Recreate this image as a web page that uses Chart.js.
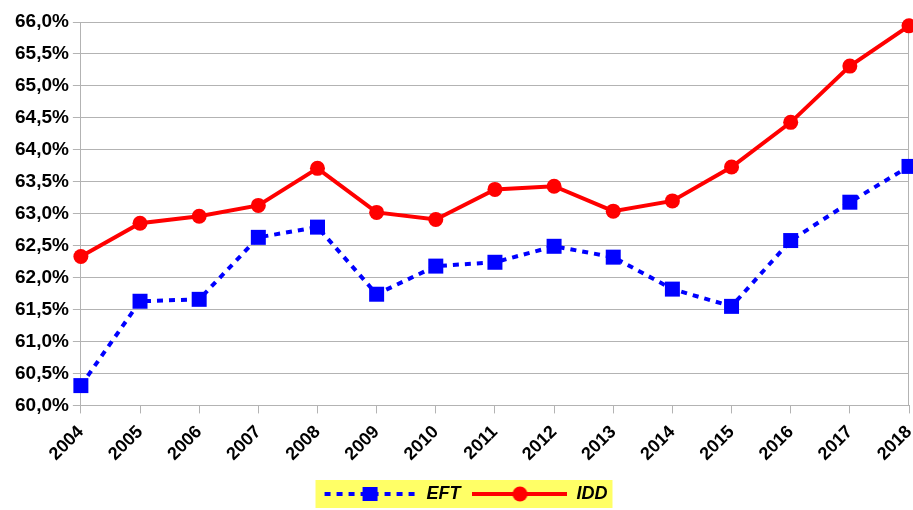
<!DOCTYPE html>
<html>
<head>
<meta charset="utf-8">
<script src="https://cdn.jsdelivr.net/npm/chart.js@4"></script>
<style>
  html, body { margin: 0; padding: 0; background: #fff; }
  #wrap { width: 913px; height: 510px; }
</style>
</head>
<body>
<div id="wrap"><canvas id="chart" width="913" height="510"></canvas></div>
<script>
const years = ['2004','2005','2006','2007','2008','2009','2010','2011','2012','2013','2014','2015','2016','2017','2018'];
const eftValues = [60.31, 61.63, 61.66, 62.63, 62.79, 61.74, 62.18, 62.24, 62.49, 62.32, 61.82, 61.55, 62.58, 63.18, 63.74];
const iddValues = [62.33, 62.85, 62.96, 63.13, 63.71, 63.02, 62.91, 63.38, 63.43, 63.04, 63.20, 63.73, 64.43, 65.31, 65.94];
const yMin = 60;
const yMax = 66;
const yStep = 0.5;

const gridColor = '#b3b3b3';
const fontFamily = '"Liberation Sans", Arial, sans-serif';

// small pictures of line + marker for the legend
function legendSwatch(color, dashed, marker) {
    const c = document.createElement('canvas');
    c.width = 95;
    c.height = 16;
    const g = c.getContext('2d');
    g.strokeStyle = color;
    g.fillStyle = color;
    g.lineWidth = 4;
    if (dashed) g.setLineDash([6, 6]);
    g.beginPath();
    g.moveTo(dashed ? 2 : 0, 8);
    g.lineTo(95, 8);
    g.stroke();
    g.setLineDash([]);
    if (marker === 'rect') {
        g.fillRect(40, 1, 15, 14);
    } else {
        g.beginPath();
        g.arc(47.5, 8, 7.5, 0, Math.PI * 2);
        g.fill();
    }
    return c;
}

const frameAndLegendBg = {
    id: 'frameAndLegendBg',
    afterUpdate(chart) {
        // nudge the legend a little to the right, like the original
        const lg = chart.legend;
        if (!lg) return;
        lg.left += 5;
        lg.right += 5;
        (lg.legendHitBoxes || []).forEach(b => { b.left += 5; });
    },
    beforeDraw(chart) {
        const ctx = chart.ctx;
        const boxes = chart.legend && chart.legend.legendHitBoxes;
        if (boxes && boxes.length) {
            const left = Math.min(...boxes.map(b => b.left)) - 7;
            const right = Math.max(...boxes.map(b => b.left + b.width)) + 5;
            const top = Math.min(...boxes.map(b => b.top)) - 5;
            const bottom = Math.max(...boxes.map(b => b.top + b.height)) + 5;
            ctx.save();
            ctx.fillStyle = '#ffff66';
            ctx.fillRect(left, top, right - left, bottom - top);
            ctx.restore();
        }
    },
    beforeDatasetsDraw(chart) {
        const a = chart.chartArea;
        const ctx = chart.ctx;
        ctx.save();
        ctx.strokeStyle = gridColor;
        ctx.lineWidth = 1;
        ctx.beginPath();
        ctx.moveTo(Math.round(a.right) - 0.5, a.top);
        ctx.lineTo(Math.round(a.right) - 0.5, a.bottom);
        ctx.stroke();
        ctx.restore();
    }
};

const ctx = document.getElementById('chart').getContext('2d');
new Chart(ctx, {
    type: 'line',
    data: {
        labels: years,
        datasets: [{
            label: 'EFT',
            data: eftValues,
            borderColor: '#0000ff',
            backgroundColor: '#0000ff',
            borderWidth: 4,
            borderDash: [6, 6],
            pointStyle: 'rect',
            pointRadius: 10.6,
            pointHoverRadius: 10.6,
            pointBorderWidth: 0,
            tension: 0,
            clip: false
        }, {
            label: 'IDD',
            data: iddValues,
            borderColor: '#ff0000',
            backgroundColor: '#ff0000',
            borderWidth: 4,
            pointStyle: 'circle',
            pointRadius: 7.5,
            pointHoverRadius: 7.5,
            pointBorderWidth: 0,
            tension: 0,
            clip: false
        }]
    },
    options: {
        responsive: false,
        animation: false,
        layout: { autoPadding: false, padding: { left: 11, right: 4, top: 22, bottom: -3 } },
        plugins: {
            tooltip: { enabled: false },
            legend: {
                position: 'bottom',
                labels: {
                    usePointStyle: true,
                    pointStyleWidth: 95,
                    padding: 12,
                    color: '#000',
                    font: { family: fontFamily, size: 18, weight: 'bold', style: 'italic' },
                    generateLabels(chart) {
                        return chart.data.datasets.map((ds, i) => ({
                            text: ds.label,
                            pointStyle: legendSwatch(ds.borderColor, i === 0, ds.pointStyle),
                            fillStyle: ds.borderColor,
                            strokeStyle: ds.borderColor,
                            lineWidth: 0,
                            fontColor: '#000',
                            datasetIndex: i
                        }));
                    }
                }
            }
        },
        scales: {
            x: {
                offset: false,
                grid: { display: true, drawOnChartArea: false, drawTicks: true, tickLength: 8, color: gridColor },
                border: { color: gridColor },
                afterFit(scale) { scale.paddingRight = 0; },
                ticks: {
                    color: '#000',
                    minRotation: 45,
                    maxRotation: 45,
                    autoSkip: false,
                    padding: 8,
                    font: { family: fontFamily, size: 18, weight: 'bold' }
                }
            },
            y: {
                min: yMin,
                max: yMax,
                grid: { color: gridColor, tickLength: 8 },
                border: { color: gridColor },
                ticks: {
                    stepSize: yStep,
                    color: '#000',
                    padding: 4,
                    font: { family: fontFamily, size: 19, weight: 'bold' },
                    callback: v => v.toFixed(1).replace('.', ',') + '%'
                }
            }
        }
    },
    plugins: [frameAndLegendBg]
});
</script>
</body>
</html>
